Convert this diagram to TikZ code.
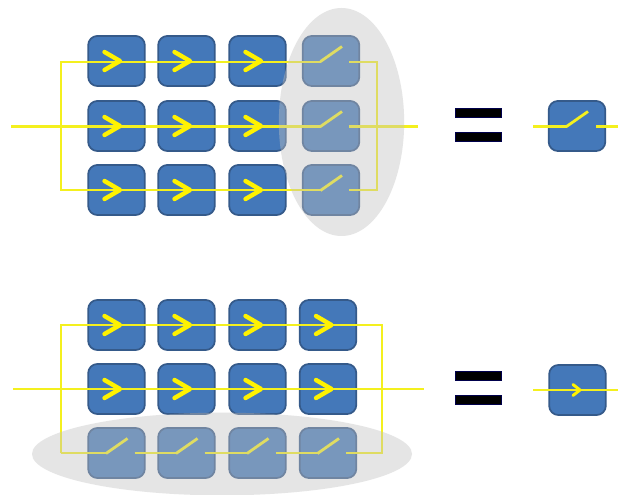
\documentclass[tikz,border=0pt]{standalone}
\definecolor{boxfill}{HTML}{4478B9}
\definecolor{boxline}{HTML}{355A8A}
\definecolor{wirecol}{HTML}{F4F01E}
\definecolor{chevcol}{HTML}{FFF200}
\definecolor{halo}{HTML}{C2C2C2}
\tikzset{
  x=0.75pt,y=-0.75pt,
  cell/.style={draw=boxline,fill=boxfill,line width=1.3pt,rounded corners=7pt,minimum width=42.5pt,minimum height=37.6pt,inner sep=0pt,outer sep=0pt},
  wire/.style={draw=wirecol,line width=2.1pt,line join=miter},
  chev/.style={draw=chevcol,line width=3.3pt,line cap=round,line join=round},
  smallchev/.style={draw=chevcol,line width=2.2pt,line cap=round,line join=round},
  haloshape/.style={ellipse,fill=halo,fill opacity=0.42,inner sep=0pt,outer sep=0pt},
  bar/.style={fill=black,draw=black!70!blue,line width=0.4pt,minimum width=34.5pt,minimum height=6.8pt,inner sep=0pt,outer sep=0pt},
}
\usetikzlibrary{shapes.geometric}
\newcommand{\chevat}[1]{\draw[chev] ([shift={(-12,-9)}]#1.center) -- ([shift={(3.5,0)}]#1.center) -- ([shift={(-12,9)}]#1.center);}
\newcommand{\swarm}[1]{\draw[wire] ([shift={(-10.5,0.5)}]#1.center) -- ([shift={(11,-14.5)}]#1.center);}
\begin{document}
\begin{tikzpicture}
\useasboundingbox (0,0) rectangle (618,495);
\fill[white] (0,0) rectangle (618,495);
% top grid
\foreach \r/\yy in {1/61,2/126,3/190}{
  \foreach \c/\xx in {1/116.5,2/186.5,3/257.5,4/331}{
    \node[cell] (t\r\c) at (\xx,\yy) {};
  }
}
\node[cell] (tres) at (577,126) {};
% bottom grid
\foreach \r/\yy in {1/325,2/389,3/453}{
  \foreach \c/\xx in {1/116.5,2/186.5,3/257.5,4/328}{
    \node[cell] (b\r\c) at (\xx,\yy) {};
  }
}
\node[cell] (bres) at (577.5,390) {};
% top wires
\coordinate (tin) at (11,126.5);
\coordinate (tout) at (418,126.5);
\coordinate (tla) at (61,62);
\coordinate (tlc) at (61,190);
\coordinate (tra) at (377,62);
\coordinate (trc) at (377,190);
\draw[wire] ([shift={(18,1)}]t14.center) -- (tra) -- (trc) -- ([shift={(18,0)}]t34.center);
\draw[wire] ([shift={(-10.5,1)}]t14.center) -- (tla) -- (tlc) -- ([shift={(-10.5,0)}]t34.center);
\draw[wire] (tin) -- ([shift={(-10.5,0.5)}]t24.center);
\draw[wire] ([shift={(18,0.5)}]t24.center) -- (tout);
\foreach \n in {t14,t24,t34}{ \swarm{\n} }
\foreach \r in {1,2,3}{ \foreach \c in {1,2,3}{ \chevat{t\r\c} } }
% bottom wires
\coordinate (bin) at (13,389);
\coordinate (bout) at (424,389);
\coordinate (bla) at (61,325);
\coordinate (blc) at (61,453);
\coordinate (bra) at (382,325);
\coordinate (brc) at (382,453);
\draw[wire] (bin) -- (bout);
\draw[wire] (blc) -- (bla) -- (bra) -- (brc) -- ([shift={(18,0)}]b34.center);
\draw[wire] (blc) -- ([shift={(-10.5,0)}]b31.center);
\draw[wire] ([shift={(18,0)}]b31.center) -- ([shift={(-10.5,0)}]b32.center);
\draw[wire] ([shift={(18,0)}]b32.center) -- ([shift={(-10.5,0)}]b33.center);
\draw[wire] ([shift={(18,0)}]b33.center) -- ([shift={(-10.5,0)}]b34.center);
\foreach \c in {1,2,3,4}{ \swarm{b3\c} }
\foreach \r in {1,2}{ \foreach \c in {1,2,3,4}{ \chevat{b\r\c} } }
% halos
\node[haloshape,minimum width=94pt,minimum height=171pt] (thalo) at (341.5,122) {};
\node[haloshape,minimum width=285pt,minimum height=62pt] (bhalo) at (222,454) {};
% top result
\coordinate (rin) at (533,126.5);
\coordinate (rout) at (618,126.5);
\draw[wire] (rin) -- ([shift={(-10.5,0.5)}]tres.center);
\draw[wire] ([shift={(19,0.5)}]tres.center) -- (rout);
\swarm{tres}
% bottom result
\coordinate (sin) at (533,390);
\coordinate (sout) at (618,390);
\draw[wire] (sin) -- (sout);
\draw[smallchev] ([shift={(-4.5,-5.5)}]bres.center) -- ([shift={(2.5,0)}]bres.center) -- ([shift={(-4.5,5.5)}]bres.center);
% equals signs
\node[bar] (eqa) at (478.5,112.5) {};
\node[bar] (eqb) at (478.5,137) {};
\node[bar] (eqc) at (478.5,375.5) {};
\node[bar] (eqd) at (478.5,399.5) {};
\end{tikzpicture}
\end{document}
